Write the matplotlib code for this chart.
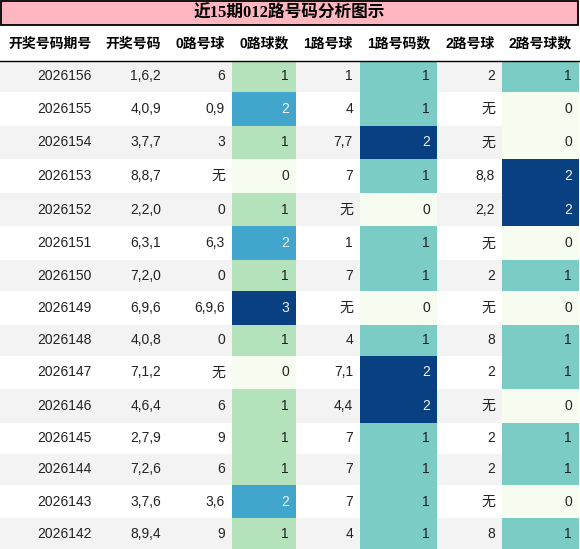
import numpy as np
import matplotlib
matplotlib.use("Agg")
import matplotlib.pyplot as plt
from matplotlib.patches import Rectangle
from matplotlib import cm, colors

# data
title = "近15期012路号码分析图示"
headers = ["开奖号码期号", "开奖号码", "0路号球", "0路球数", "1路号球", "1路号码数", "2路号球", "2路号球数"]
periods = ["2026156", "2026155", "2026154", "2026153", "2026152", "2026151", "2026150", "2026149",
           "2026148", "2026147", "2026146", "2026145", "2026144", "2026143", "2026142"]
draws = ["1,6,2", "4,0,9", "3,7,7", "8,8,7", "2,2,0", "6,3,1", "7,2,0", "6,9,6",
         "4,0,8", "7,1,2", "4,6,4", "2,7,9", "7,2,6", "3,7,6", "8,9,4"]
r0_balls = ["6", "0,9", "3", "无", "0", "6,3", "0", "6,9,6", "0", "无", "6", "9", "6", "3,6", "9"]
r0_cnt = [1, 2, 1, 0, 1, 2, 1, 3, 1, 0, 1, 1, 1, 2, 1]
r1_balls = ["1", "4", "7,7", "7", "无", "1", "7", "无", "4", "7,1", "4,4", "7", "7", "7", "4"]
r1_cnt = [1, 1, 2, 1, 0, 1, 1, 0, 1, 2, 2, 1, 1, 1, 1]
r2_balls = ["2", "无", "无", "8,8", "2,2", "无", "2", "无", "8", "2", "无", "2", "2", "无", "8"]
r2_cnt = [1, 0, 0, 2, 2, 0, 1, 0, 1, 1, 0, 1, 1, 0, 1]

columns = [periods, draws, r0_balls, r0_cnt, r1_balls, r1_cnt, r2_balls, r2_cnt]
gradient_cols = [3, 5, 7]

# layout
col_w = [99, 69, 64, 64, 64, 77, 65, 77]
col_x = np.concatenate([[0], np.cumsum(col_w)])
title_h = 26
head_h = 35
pad = 7
row_h = [33.6 if any(str(c[i]) == "无" for c in columns) else 31.0 for i in range(len(periods))]
row_y = title_h + head_h + np.concatenate([[0], np.cumsum(row_h)])

sans = ["Liberation Sans", "Noto Sans CJK SC"]
serif = ["Liberation Serif", "Noto Sans CJK SC"]

fig = plt.figure(figsize=(5.8, 5.49), dpi=100)
ax = fig.add_axes([0, 0, 1, 1])
ax.set_xlim(0, 580)
ax.set_ylim(549, 0)
ax.axis("off")

# title bar
ax.add_patch(Rectangle((0.8, 0.8), col_x[-1] - 1.6, title_h - 1.6, facecolor="#ffb6c1",
                       edgecolor="black", lw=1.3))
ax.text(col_x[-1] / 2, title_h / 2 + 0.5, title, ha="center", va="center",
        fontsize=12, fontweight="bold", family=serif)

# header
hy = title_h + head_h / 2
for j, h in enumerate(headers):
    ax.text(col_x[j + 1] - pad, hy, h, ha="right", va="center", fontsize=10,
            fontweight="bold", family=sans)
ax.plot([0, col_x[-1]], [title_h + head_h, title_h + head_h], color="black", lw=1)

cmap = cm.get_cmap("GnBu") if hasattr(cm, "get_cmap") else matplotlib.colormaps["GnBu"]


def lum(c):
    def f(x):
        return x / 12.92 if x <= 0.04045 else ((x + 0.055) / 1.055) ** 2.4
    r, g, b = c[:3]
    return 0.2126 * f(r) + 0.7152 * f(g) + 0.0722 * f(b)


for j, col in enumerate(columns):
    if j in gradient_cols:
        norm = colors.Normalize(min(col), max(col))
    for i, v in enumerate(col):
        y0 = row_y[i]
        h = row_h[i]
        tc = "#222222"
        if j in gradient_cols:
            fc = cmap(norm(v))
            if lum(fc) < 0.408:
                tc = "#f1f1f1"
        else:
            fc = "#f3f3f3" if i % 2 == 0 else "white"
        ax.add_patch(Rectangle((col_x[j], y0), col_w[j], h, facecolor=fc, edgecolor="none"))
        ax.text(col_x[j + 1] - pad, y0 + h / 2, str(v), ha="right", va="center",
                fontsize=10, color=tc, family=sans)

fig.savefig("out.png", dpi=100)
